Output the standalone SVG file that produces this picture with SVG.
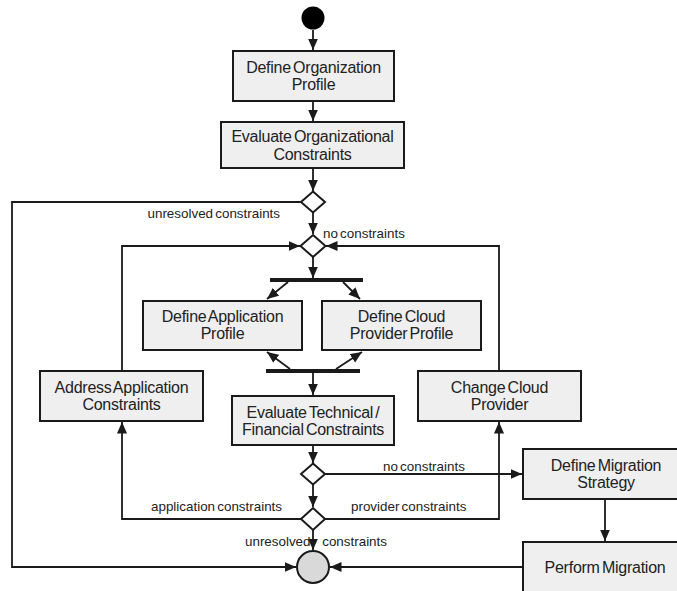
<svg xmlns="http://www.w3.org/2000/svg" width="677" height="591" viewBox="0 0 677 591">
  <defs>
    <marker id="arrow" markerUnits="userSpaceOnUse" markerWidth="12" markerHeight="11" refX="11.5" refY="5" orient="auto">
      <path d="M0,0 L11.5,5 L0,10 z" fill="#1a1a1a"/>
    </marker>
    <style>
      .box { fill: #efefef; stroke: #1a1a1a; stroke-width: 2; }
      .bar { stroke: #1a1a1a; stroke-width: 4; }
      .dec { fill: #ffffff; stroke: #1a1a1a; stroke-width: 2; }
      .edge { fill: none; stroke: #1a1a1a; stroke-width: 1.8; }
      .arr { marker-end: url(#arrow); }
      .t { font-family: "Liberation Sans", Arial, sans-serif; font-size: 16px; fill: #222; text-anchor: middle; letter-spacing: -0.25px; word-spacing: -2px; }
      .lbl { font-family: "Liberation Sans", Arial, sans-serif; font-size: 13.4px; fill: #222; word-spacing: -1.5px; }
    </style>
  </defs>
  <rect width="677" height="591" fill="#ffffff"/>

  <!-- connectors -->
  <g id="connectors">
    <path class="edge arr" d="M313,30 V50"/>
    <path class="edge arr" d="M313,101 V121"/>
    <path class="edge arr" d="M313,168 V191"/>
    <!-- unresolved organizational constraints -->
    <path class="edge arr" d="M301,202 H12 V567 H296"/>
    <path class="edge arr" d="M313,213 V234"/>
    <path class="edge arr" d="M313,257 V278"/>
    <!-- fork -->
    <path class="edge arr" d="M288,282 L267,299"/>
    <path class="edge arr" d="M343,282 L360,299"/>
    <!-- join -->
    <path class="edge arr" d="M290,369 L267,352"/>
    <path class="edge arr" d="M336,369 L362,352"/>
    <path class="edge arr" d="M313,373 V395"/>
    <path class="edge arr" d="M313,445 V463"/>
    <path class="edge arr" d="M313,485 V507"/>
    <path class="edge arr" d="M313,530 V550"/>
    <!-- no technical constraints -->
    <path class="edge arr" d="M325,474 H522"/>
    <path class="edge arr" d="M605,499 V541"/>
    <path class="edge arr" d="M523,567 H330"/>
    <!-- application / provider constraint loops -->
    <path class="edge arr" d="M301,519 H122 V422"/>
    <path class="edge arr" d="M325,519 H499 V422"/>
    <path class="edge arr" d="M122,371 V246 H300"/>
    <path class="edge arr" d="M499,371 V246 H326"/>
  </g>

  <!-- connector labels -->
  <g id="labels">
    <text class="lbl" x="280" y="218" text-anchor="end">unresolved constraints</text>
    <text class="lbl" x="323" y="238">no constraints</text>
    <text class="lbl" x="383" y="471">no constraints</text>
    <text class="lbl" x="282" y="511" text-anchor="end">application constraints</text>
    <text class="lbl" x="351" y="511">provider constraints</text>
    <text class="lbl" x="245" y="546" style="word-spacing:8px">unresolved constraints</text>
  </g>

  <g id="start">
    <circle cx="313" cy="18" r="11.5" fill="#000"/>
  </g>

  <g id="define-organization-profile">
    <rect class="box" x="233" y="51" width="161" height="50"/>
    <text class="t" x="313.5" y="73">Define Organization<tspan x="313.5" y="90">Profile</tspan></text>
  </g>

  <g id="evaluate-organizational-constraints">
    <rect class="box" x="221" y="122" width="183" height="46"/>
    <text class="t" x="312.5" y="142">Evaluate Organizational<tspan x="312.5" y="160">Constraints</tspan></text>
  </g>

  <g id="decision-organizational">
    <path class="dec" d="M313,191.5 L325,202 L313,212.5 L301,202 z"/>
  </g>

  <g id="merge">
    <path class="dec" d="M313,235 L325.5,246 L313,257 L300.5,246 z"/>
  </g>

  <g id="fork">
    <line class="bar" x1="270" y1="280" x2="363" y2="280"/>
  </g>

  <g id="define-application-profile">
    <rect class="box" x="143" y="301" width="159" height="49"/>
    <text class="t" x="222.5" y="322">Define Application<tspan x="222.5" y="339">Profile</tspan></text>
  </g>

  <g id="define-cloud-provider-profile">
    <rect class="box" x="322" y="301" width="159" height="49"/>
    <text class="t" x="401.5" y="322">Define Cloud<tspan x="401.5" y="339">Provider Profile</tspan></text>
  </g>

  <g id="join">
    <line class="bar" x1="266" y1="371" x2="360" y2="371"/>
  </g>

  <g id="address-application-constraints">
    <rect class="box" x="40" y="371" width="163" height="50"/>
    <text class="t" x="121.5" y="393">Address Application<tspan x="121.5" y="410">Constraints</tspan></text>
  </g>

  <g id="evaluate-technical-financial-constraints">
    <rect class="box" x="232" y="396" width="162" height="49"/>
    <text class="t" x="313" y="418">Evaluate Technical /<tspan x="313" y="435">Financial Constraints</tspan></text>
  </g>

  <g id="change-cloud-provider">
    <rect class="box" x="418" y="371" width="163" height="50"/>
    <text class="t" x="499.5" y="393">Change Cloud<tspan x="499.5" y="410">Provider</tspan></text>
  </g>

  <g id="decision-technical">
    <path class="dec" d="M313,463.5 L325,474 L313,484.5 L301,474 z"/>
  </g>

  <g id="decision-constraints">
    <path class="dec" d="M313,508 L325,519 L313,530 L301,519 z"/>
  </g>

  <g id="define-migration-strategy">
    <rect class="box" x="523" y="449" width="168" height="50"/>
    <text class="t" x="606" y="471">Define Migration<tspan x="606" y="488">Strategy</tspan></text>
  </g>

  <g id="perform-migration">
    <rect class="box" x="523" y="542" width="168" height="60"/>
    <text class="t" x="605" y="573">Perform Migration</text>
  </g>

  <g id="end">
    <circle cx="313" cy="567" r="16" fill="#d9d9d9" stroke="#1a1a1a" stroke-width="2"/>
  </g>
</svg>
